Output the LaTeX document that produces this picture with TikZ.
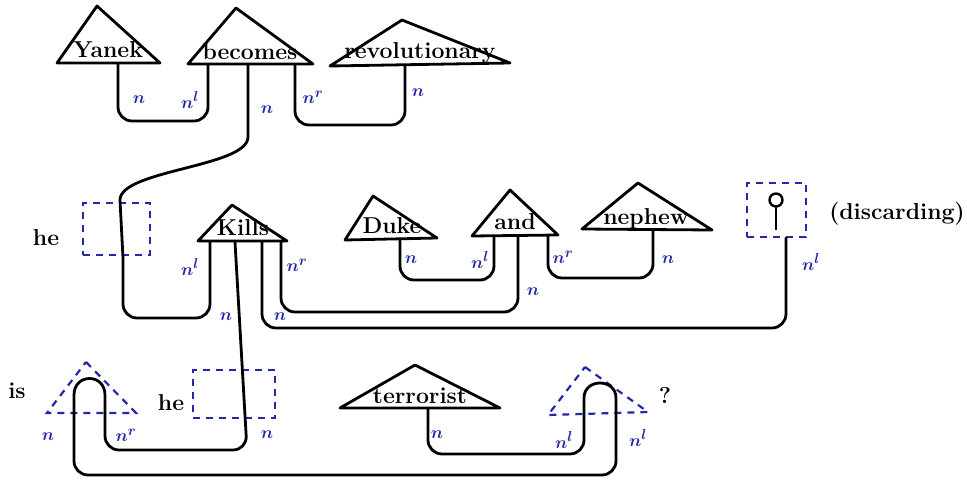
\documentclass[tikz,border=0pt]{standalone}
\usetikzlibrary{calc}
\definecolor{inkblue}{RGB}{35,40,170}
\begin{document}
\begin{tikzpicture}[x=1pt,y=-1pt,
  wire/.style={line width=2.8pt, line cap=round, rounded corners=14pt},
  capline/.style={line width=2.8pt, line cap=round},
  tri/.style={line width=2.8pt, line join=round},
  dbox/.style={inkblue, line width=2.2pt, dash pattern=on 7pt off 6pt},
  word/.style={font=\fontsize{23}{28}\selectfont\bfseries, inner sep=0pt, anchor=base},
  lab/.style={inkblue, font=\fontsize{19}{22}\selectfont\boldmath, inner sep=0pt},
]
\useasboundingbox[fill=white] (0,0) rectangle (967,481);

% ---------- top row ----------
\draw[tri] (97,6) -- (160,63) -- (57,63) -- cycle;
\node[word] (yanek) at (108,58) {Yanek};
\draw[tri] (236,8) -- (313,64) -- (188,64) -- cycle;
\node[word] (becomes) at (250,60) {becomes};
\draw[tri] (402,20) -- (510,63) -- (330,66) -- cycle;
\node[word] (revol) at (420,59) {revolutionary};

\coordinate (Yn) at (118,64);
\coordinate (Bnl) at (208,65);
\coordinate (Bn) at (248,65);
\coordinate (Bnr) at (295,65);
\coordinate (Rn) at (405,65);

% ---------- middle row ----------
\node[word] (he1) at (46,246) {he};
\node[draw, dbox, minimum width=67pt, minimum height=52pt, inner sep=0pt] (heboxA) at (116.5,229) {};
\coordinate (heTop) at (120,200);
\coordinate (heBot) at (123,258);

\draw[tri] (232,205) -- (287,241) -- (198,241) -- cycle;
\node[word] (kills) at (243,236) {Kills};
\coordinate (Knl) at (210,242);
\coordinate (Kn) at (235,242);
\coordinate (Kn2) at (262,242);
\coordinate (Knr) at (281,242);

\draw[tri] (373,196) -- (437,238) -- (345,240) -- cycle;
\node[word] (duke) at (392,234) {Duke};
\coordinate (Dn) at (400,239);

\draw[tri] (510,190) -- (558,235) -- (472,236) -- cycle;
\node[word] (and) at (515,230) {and};
\coordinate (Anl) at (494,236);
\coordinate (An) at (518,236);
\coordinate (Anr) at (548,236);

\draw[tri] (638,183) -- (712,230) -- (582,229) -- cycle;
\node[word] (nephew) at (646,225) {nephew};
\coordinate (Nn) at (653,230);

\node[draw, dbox, minimum width=59pt, minimum height=54pt, inner sep=0pt] (discbox) at (776.5,210) {};
\draw[line width=2.8pt] (776,207) -- (776,230);
\draw[line width=2.4pt] (776,200) circle (6.5);
\node[word] (discard) at (897,220) {(discarding)};
\coordinate (Dis) at (786,238);

% ---------- bottom row ----------
\node[word] (is) at (17,398) {is};
\draw[dbox] (86,362) -- (136,413) -- (47,413) -- cycle;
\coordinate (isnl) at (74,413);
\coordinate (isnr) at (105,413);
\draw[capline] (isnl) -- (74,395) .. controls +(0,-22) and +(0,-22) .. (105,395) -- (isnr);

\node[word] (he2) at (171,410) {he};
\node[draw, dbox, minimum width=82pt, minimum height=48pt, inner sep=0pt] (heboxB) at (234,394) {};
\coordinate (he2Bot) at (247,450);

\draw[tri] (415,365) -- (500,408) -- (340,408) -- cycle;
\node[word] (terror) at (420,403) {terrorist};
\coordinate (Tn) at (428,409);

\draw[dbox] (585,367) -- (648,412) -- (548,415) -- cycle;
\coordinate (c2L) at (584,413);
\coordinate (c2R) at (616,413);
\draw[capline] (c2L) -- (584,398) .. controls +(0,-20) and +(0,-20) .. (616,398) -- (c2R);
\node[word] (qm) at (665,403) {?};

% ---------- wires ----------
\draw[wire] (Yn) -- ++(0,57) -| (Bnl);
\draw[wire] (Bnr) -- ++(0,60) -| (Rn);
\draw[wire, sharp corners] (Bn) -- ($(Bn)+(0,72)$) .. controls +(0,30) and +(0,-30) .. (heTop) -- (heBot) [rounded corners=14pt] -- ++(0,60) -| (Knl);
\draw[wire] (Kn) -- (he2Bot) -| (isnr);
\draw[wire] (Kn2) -- ++(0,86) -| (Dis);
\draw[wire] (Knr) -- ++(0,70) -| (An);
\draw[wire] (Dn) -- ++(0,41) -| (Anl);
\draw[wire] (Anr) -- ++(0,42) -| (Nn);
\draw[wire] (isnl) -- ++(0,62) -| (c2R);
\draw[wire] (Tn) -- ++(0,45) -| (c2L);

% ---------- labels ----------
\node[lab] (l1) at (139,100) {$n$};
\node[lab] (l2) at (190,100) {$n^l$};
\node[lab] (l3) at (267,110) {$n$};
\node[lab] (l4) at (313,97) {$n^r$};
\node[lab] (l5) at (418,93) {$n$};
\node[lab] (l6) at (190,267) {$n^l$};
\node[lab] (l7) at (297,265) {$n^r$};
\node[lab] (l8) at (226,317) {$n$};
\node[lab] (l9) at (280,317) {$n$};
\node[lab] (l10) at (411,260) {$n$};
\node[lab] (l11) at (480,260) {$n^l$};
\node[lab] (l12) at (533,292) {$n$};
\node[lab] (l13) at (563,257) {$n^r$};
\node[lab] (l14) at (668,260) {$n$};
\node[lab] (l15) at (811,262) {$n^l$};
\node[lab] (l16) at (48,437) {$n$};
\node[lab] (l17) at (126,435) {$n^r$};
\node[lab] (l18) at (267,435) {$n$};
\node[lab] (l19) at (437,435) {$n$};
\node[lab] (l20) at (564,440) {$n^l$};
\node[lab] (l21) at (638,438) {$n^l$};
\end{tikzpicture}
\end{document}
